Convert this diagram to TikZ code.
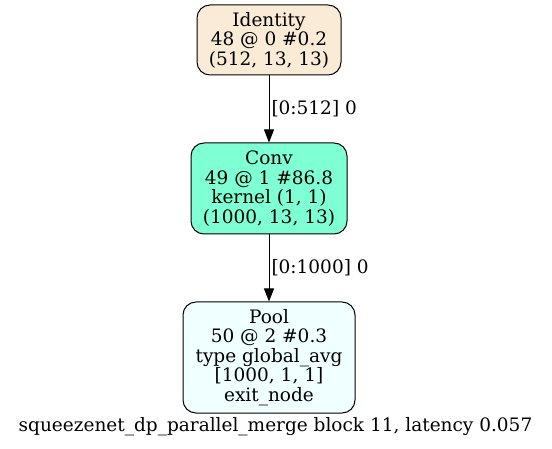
\documentclass[tikz,border=0pt]{standalone}
\usepackage{fontspec}
\setmainfont{DejaVu Serif}
\usetikzlibrary{arrows.meta}
\definecolor{idfill}{HTML}{FAEBD7}
\definecolor{convfill}{HTML}{7FFFD4}
\definecolor{poolfill}{HTML}{F0FFFF}
\begin{document}
\begin{tikzpicture}[x=1pt,y=-1pt,
  gnode/.style={draw=black, line width=1pt, rounded corners=13pt, align=center,
    font=\fontsize{18.5}{19.5}\selectfont, inner sep=0pt},
  edge/.style={draw=black, line width=1pt, -{Triangle[length=13pt,width=10pt]}},
  elabel/.style={font=\fontsize{18.5}{19.5}\selectfont, anchor=west, inner sep=0pt}]
\useasboundingbox (0,0) rectangle (552,449);
\node[gnode, fill=idfill, minimum width=144pt, minimum height=70pt] (id) at (269,40)
  {Identity\\48 @ 0 \#0.2\\(512, 13, 13)};
\node[gnode, fill=convfill, minimum width=156pt, minimum height=91pt] (conv) at (269,188.5)
  {Conv\\49 @ 1 \#86.8\\kernel (1, 1)\\(1000, 13, 13)};
\node[gnode, fill=poolfill, minimum width=172pt, minimum height=111pt] (pool) at (269,357.5)
  {Pool\\50 @ 2 \#0.3\\type global\_avg\\{[}1000, 1, 1{]}\\exit\_node};
\draw[edge] (id) -- (conv) node[midway, elabel, xshift=2pt] (l1) {[0:512] 0};
\draw[edge] (conv) -- (pool) node[midway, elabel, xshift=2pt] (l2) {[0:1000] 0};
\node[font=\fontsize{18.5}{19.5}\selectfont, inner sep=0pt] (cap) at (275.5,427)
  {squeezenet\_dp\_parallel\_merge block 11, latency 0.057};
\end{tikzpicture}
\end{document}
